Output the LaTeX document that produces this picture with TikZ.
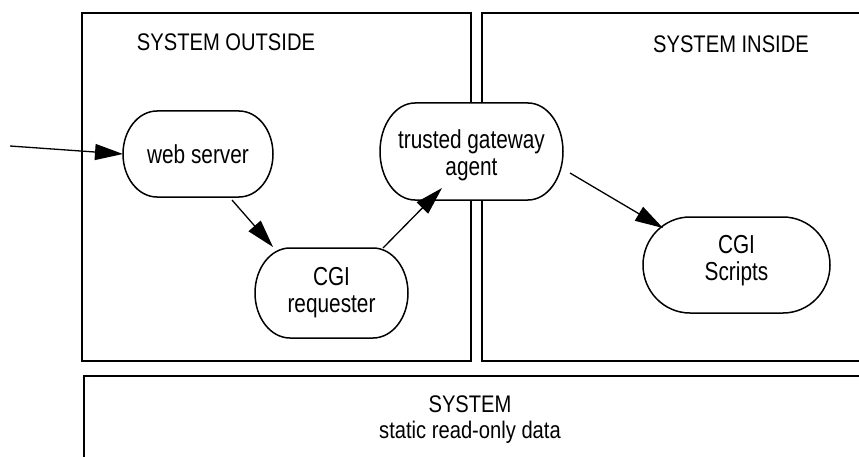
\documentclass[tikz,border=0pt]{standalone}
\usepackage{fontspec}
\usetikzlibrary{arrows.meta,calc}
\newfontfamily\lab[FakeStretch=0.8]{Liberation Sans}
\newfontfamily\ttl[FakeStretch=0.84]{Liberation Sans}

% outline of a capsule node: straight top and bottom, half-ellipse ends
\newcommand\capsulepath[3]{%
  \draw[capline] ([xshift=#2]#1.north west) -- ([xshift=-#2]#1.north east)
    arc[start angle=90, end angle=-90, x radius=#2, y radius=#3]
    -- ([xshift=#2]#1.south west)
    arc[start angle=270, end angle=90, x radius=#2, y radius=#3] -- cycle;}

\tikzset{
  capline/.style={line width=1.5pt, fill=white},
  zone/.style={draw, line width=1.6pt, inner sep=0pt, outer sep=0pt},
  capsule/.style={draw=none, inner sep=0pt, outer sep=0pt, align=center,
    font=\lab\fontsize{26}{27}\selectfont},
  zonetitle/.style={inner sep=0pt, font=\ttl\fontsize{24}{26}\selectfont},
  flow/.style={line width=1.3pt, -{Triangle[length=28pt,width=16pt]}}
}

\begin{document}
\begin{tikzpicture}[x=1pt,y=1pt]
\useasboundingbox (0,0) rectangle (859,456);

% the three system areas
\node[zone, minimum width=389pt, minimum height=348pt] (outside) at (276.5,269) {};
\node[zone, minimum width=393pt, minimum height=348pt] (inside) at (678.5,269) {};
\node[zone, minimum width=791pt, minimum height=94pt] (static) at (479.5,33) {};

\node[zonetitle] (outsidetitle) at (226,414) {SYSTEM OUTSIDE};
\node[zonetitle] (insidetitle) at (731,412) {SYSTEM INSIDE};
\node[zonetitle, anchor=base] (statictitle) at (470,44) {SYSTEM};
\node[zonetitle, anchor=base] (staticnote) at (470,18) {static read-only data};

% processes: outlines first (white-filled), then the labels on top
\path (198,302) coordinate (webc) (331.5,163) coordinate (reqc)
      (471.5,304.5) coordinate (gatec) (736.5,191) coordinate (cgic);
\node[capsule, minimum width=150pt, minimum height=86pt] (web) at (webc) {\phantom{x}};
\node[capsule, minimum width=153pt, minimum height=90pt] (req) at (reqc) {\phantom{x}};
\node[capsule, minimum width=183pt, minimum height=97pt] (gate) at (gatec) {\phantom{x}};
\node[capsule, minimum width=187pt, minimum height=96pt] (cgi) at (cgic) {\phantom{x}};

\capsulepath{web}{34pt}{43pt}
\capsulepath{req}{35pt}{45pt}
\capsulepath{gate}{35pt}{48.5pt}
\capsulepath{cgi}{47pt}{48pt}

\node[capsule] (weblabel) at (web.center) {web server};
\node[capsule] (reqlabel) at (req.center) {CGI\\requester};
\node[capsule] (gatelabel) at ([yshift=-4pt]gate.center) {trusted gateway\\agent};
\node[capsule] (cgilabel) at ([yshift=4pt]cgi.center) {CGI\\Scripts};

% request flow
\coordinate (client) at (10,310);
\draw[flow] (client) -- (web.west);
\draw[flow] ($(web.center)+(34,-46)$) -- ($(req.center)+(-58.5,46)$);
\draw[flow] ($(req.center)+(51.5,45)$) -- ($(gate.center)+(-29.5,-36.5)$);
\draw[flow] ($(gate.center)+(98.5,-21.5)$) -- ($(cgi.center)+(-73.5,37)$);
\end{tikzpicture}
\end{document}
